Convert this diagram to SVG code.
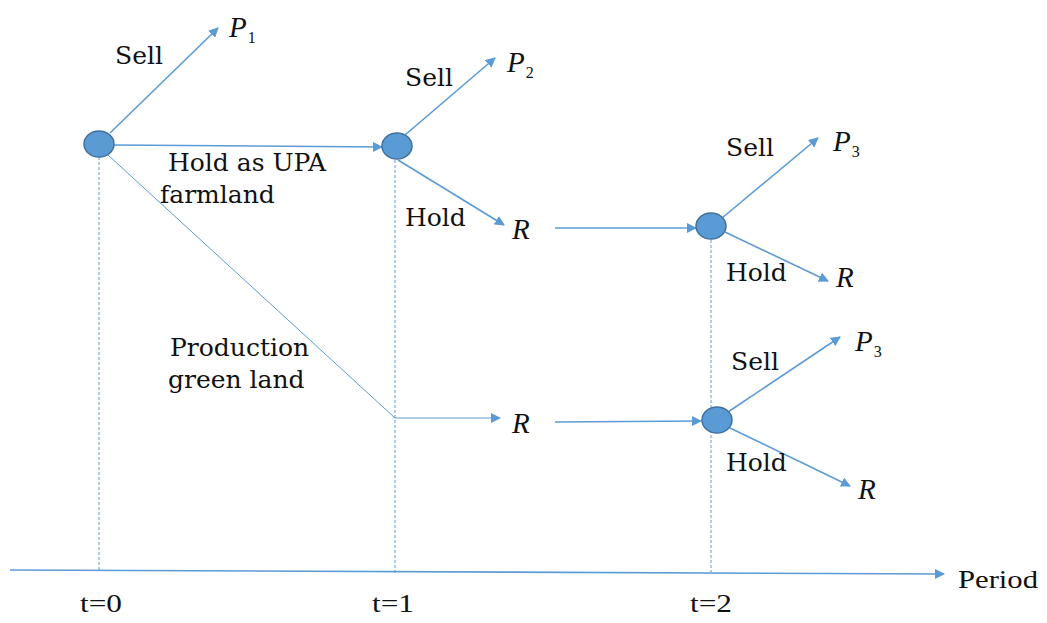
<svg xmlns="http://www.w3.org/2000/svg" width="1047" height="623" viewBox="0 0 1047 623">
<style>
.l{stroke:#5B9BD5;stroke-width:1.6;fill:none}
.t{stroke:#5B9BD5;stroke-width:1;fill:none}
.d{stroke:#5B9BD5;stroke-width:1;stroke-dasharray:3,2;fill:none}
.n{fill:#5B9BD5;stroke:#41719C;stroke-width:1.5}
.w{font-family:'DejaVu Serif',serif;font-size:25px;fill:#111}
.v{font-family:'Liberation Serif',serif;font-style:italic;font-size:29px;fill:#111}
.s{font-size:16px;font-style:normal}
.x{font-family:'Liberation Serif',serif;font-size:25px;fill:#111}
</style>
<defs>
<marker id="a" viewBox="0 0 10 10" refX="9" refY="5" markerWidth="10" markerHeight="10" markerUnits="userSpaceOnUse" orient="auto"><path d="M0,0L10,5L0,10z" fill="#5B9BD5"/></marker>
</defs>
<g id="connectors">
<line class="d" x1="99" y1="157" x2="99" y2="571"/>
<line class="d" x1="395" y1="160" x2="395" y2="574"/>
<line class="d" x1="711" y1="240" x2="711" y2="572"/>
<line class="l" x1="10" y1="570" x2="944" y2="574" marker-end="url(#a)"/>
<line class="l" x1="110" y1="133" x2="218" y2="28" marker-end="url(#a)"/>
<line class="l" x1="114" y1="145" x2="382" y2="147" marker-end="url(#a)"/>
<polyline class="t" points="108,155 395,418 500,418" marker-end="url(#a)"/>
<line class="l" x1="405" y1="135" x2="495" y2="58" marker-end="url(#a)"/>
<line class="l" x1="398" y1="160" x2="504" y2="225" marker-end="url(#a)"/>
<line class="l" x1="555" y1="228" x2="696" y2="228" marker-end="url(#a)"/>
<line class="l" x1="555" y1="422" x2="701" y2="421" marker-end="url(#a)"/>
<line class="l" x1="722" y1="218" x2="818" y2="138" marker-end="url(#a)"/>
<line class="l" x1="725" y1="232" x2="828" y2="281" marker-end="url(#a)"/>
<line class="l" x1="728" y1="412" x2="840" y2="337" marker-end="url(#a)"/>
<line class="l" x1="730" y1="428" x2="850" y2="486" marker-end="url(#a)"/>
</g>
<g id="node0"><ellipse class="n" cx="99" cy="144" rx="15" ry="13"/></g>
<g id="node1"><ellipse class="n" cx="397" cy="146" rx="15" ry="13"/></g>
<g id="node2"><ellipse class="n" cx="711" cy="226" rx="15" ry="13"/></g>
<g id="node3"><ellipse class="n" cx="717" cy="420" rx="15" ry="13"/></g>
<g id="labels" font-family="DejaVu Serif, serif">
<text class="w" x="115" y="64">Sell</text>
<text class="v" x="229" y="37">P<tspan class="s" dx="1" dy="6">1</tspan></text>
<text class="w" x="168" y="171">Hold as UPA</text>
<text class="w" x="160" y="203">farmland</text>
<text class="w" x="405" y="86">Sell</text>
<text class="v" x="507" y="72">P<tspan class="s" dx="1" dy="6">2</tspan></text>
<text class="w" x="405" y="226">Hold</text>
<text class="v" x="512" y="239">R</text>
<text class="w" x="170" y="356">Production</text>
<text class="w" x="168" y="388">green land</text>
<text class="v" x="512" y="433">R</text>
<text class="w" x="726" y="156">Sell</text>
<text class="v" x="833" y="151">P<tspan class="s" dx="1" dy="6">3</tspan></text>
<text class="w" x="726" y="281">Hold</text>
<text class="v" x="836" y="287">R</text>
<text class="w" x="731" y="370">Sell</text>
<text class="v" x="855" y="351">P<tspan class="s" dx="1" dy="6">3</tspan></text>
<text class="w" x="726" y="471">Hold</text>
<text class="v" x="858" y="499">R</text>
<text class="x" x="958" y="588" textLength="80" lengthAdjust="spacingAndGlyphs">Period</text>
<text class="x" x="80" y="612" textLength="42" lengthAdjust="spacingAndGlyphs">t=0</text>
<text class="x" x="372" y="612" textLength="42" lengthAdjust="spacingAndGlyphs">t=1</text>
<text class="x" x="690" y="612" textLength="42" lengthAdjust="spacingAndGlyphs">t=2</text>
</g>
</svg>
